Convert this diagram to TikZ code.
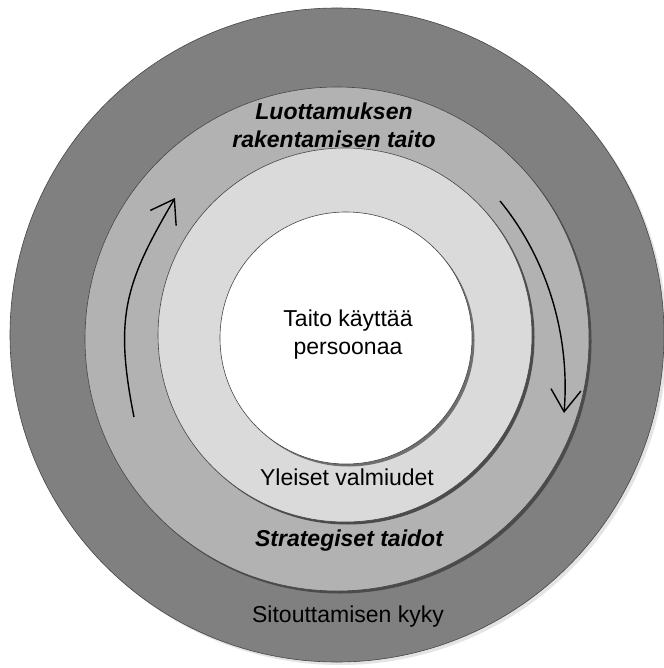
\documentclass[tikz,border=0pt]{standalone}
\usepackage{fontspec}
\setmainfont{Liberation Sans}
\usetikzlibrary{arrows.meta}
\definecolor{outerg}{RGB}{128,128,128}
\definecolor{midg}{RGB}{178,178,178}
\definecolor{lightg}{RGB}{218,218,218}
\definecolor{edgeg}{RGB}{70,70,70}
\definecolor{shadowd}{RGB}{75,75,75}
\definecolor{shadowl}{RGB}{228,228,228}
\begin{document}
\begin{tikzpicture}[x=1pt,y=-1pt,
  ring/.style={circle, draw=edgeg, line width=0.6pt, inner sep=0pt},
  shad/.style={circle, inner sep=0pt, draw=none},
  lbl/.style={font=\fontsize{23}{28}\selectfont, align=center, inner sep=0pt},
  blbl/.style={font=\fontsize{23}{28}\selectfont\bfseries\itshape, align=center, inner sep=0pt},
  cyc/.style={line width=1.4pt, -{Straight Barb[length=22pt,width=30pt,line width=1.4pt]}}
]
\useasboundingbox (0,0) rectangle (663,668);
\fill[white] (0,0) rectangle (663,668);
% outer ring
\node[shad, fill=shadowl, minimum size=654pt] (outershadow) at (340,338) {};
\node[ring, fill=outerg, minimum size=654pt] (outer) at (337,335) {};
% middle ring
\node[shad, fill=shadowd, minimum size=504pt] (midshadow) at (339.5,341.5) {};
\node[ring, fill=midg, minimum size=504pt] (mid) at (337,339) {};
% light ring
\node[shad, fill=shadowd, minimum size=374pt] (lightshadow) at (347.5,337.5) {};
\node[ring, fill=lightg, minimum size=374pt] (light) at (345,335) {};
% core
\node[shad, fill=shadowd!80, minimum size=252pt] (coreshadow) at (348.5,340.5) {};
\node[ring, fill=white, minimum size=252pt] (core) at (346,338) {};
% labels
\node[blbl] (l1) at (334,125) {Luottamuksen\\rakentamisen taito};
\node[lbl] (l2) at (348,335) {Taito käyttää\\persoonaa};
\node[lbl] (l3) at (347,477) {Yleiset valmiudet};
\node[blbl] (l4) at (349,541) {Strategiset taidot};
\node[lbl] (l5) at (348,617) {Sitouttamisen kyky};
% cycle arrows
\coordinate (la) at (134,417);
\coordinate (lb) at (175,198);
\coordinate (ra) at (500,201);
\coordinate (rb) at (564,413);
\draw[cyc] (la) .. controls (114,317) and (125,283) .. (lb);
\draw[cyc] (ra) .. controls (550,262) and (570,340) .. (rb);
\end{tikzpicture}
\end{document}
